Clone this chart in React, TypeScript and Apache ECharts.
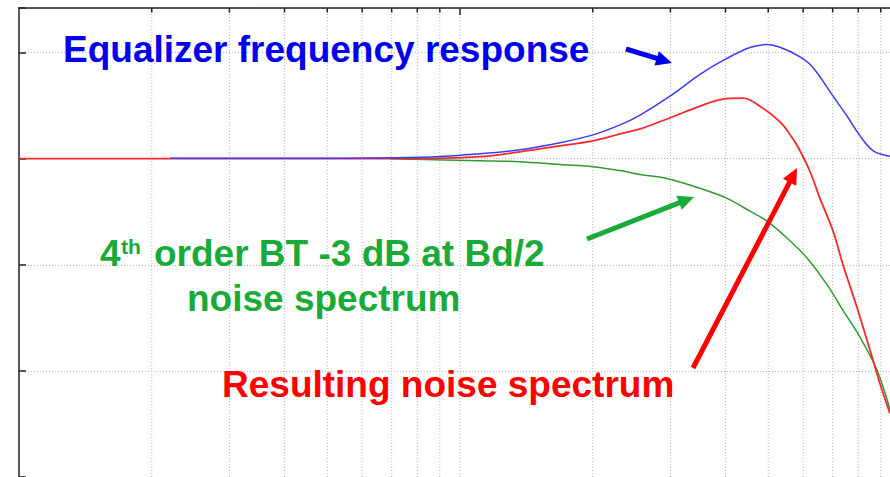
import React, { useEffect, useRef } from "react";
import * as echarts from "echarts";

// Frequencies (normalized, log axis from 1 upward) and levels in dB
const eqFreq = [2.2, 4.34, 8.12, 11.1, 13.68, 16.86, 20.03, 23.06, 25.6, 29.94, 35.01, 39.89, 45.47, 49.67, 53.17, 59.02, 63.16, 70.13, 75.44, 80.73, 86.4, 92.96, 100];
const eqDb = [0.05, 0.05, 0.14, 0.47, 0.84, 1.5, 2.24, 3.18, 4.11, 5.89, 7.94, 9.35, 10.47, 10.75, 10.5, 9.6, 8.6, 5.89, 4.02, 2.15, 0.75, 0.28, 0.19];

const btFreq = [6.94, 11.1, 13.68, 16.86, 20.03, 23.06, 25.6, 29.47, 35.01, 40.31, 45.47, 49.67, 55.13, 61.21, 67.97, 73.88, 80.73, 88.22, 94.43];
const btDb = [0, -0.19, -0.28, -0.56, -0.75, -1.12, -1.5, -1.87, -2.8, -3.74, -4.95, -5.89, -7.48, -9.35, -11.87, -14.3, -16.82, -19.91, -23.64];

const resFreq = [1, 7.31, 11.1, 13.68, 16.86, 20.03, 23.06, 25.6, 29.47, 35.01, 39.48, 43.83, 47.89, 53.17, 56.88, 59.02, 62.18, 65.51, 70.13, 73.88, 79.48, 85.07, 89.62, 94.43];
const resDb = [0, 0, 0.19, 0.65, 1.21, 1.68, 2.34, 2.8, 3.74, 4.95, 5.61, 5.7, 4.95, 3.46, 1.87, 0.75, -1.21, -3.74, -6.82, -10.0, -14.02, -18.04, -21.21, -24.02];

const gridFreqs = [2, 3, 4, 5, 6, 7, 8, 9, 10, 20, 30, 40, 50, 60, 70, 80, 90];
const majorFreqs = [10];

const F_MIN = 1;
const F_MAX = 94.43;
const Y_MIN = -30;
const Y_MAX = 14.2;
const Y_STEP = 10;

const FONT = "'Liberation Sans', Arial, sans-serif";

function arrow(x1: number, y1: number, x2: number, y2: number, color: string) {
  const dx = x2 - x1;
  const dy = y2 - y1;
  const len = Math.sqrt(dx * dx + dy * dy);
  const ux = dx / len;
  const uy = dy / len;
  const L = 16;
  const W = 7.5;
  const bx = x2 - ux * L;
  const by = y2 - uy * L;
  const nx = -uy;
  const ny = ux;
  return [
    {
      type: "line",
      shape: { x1, y1, x2: bx + ux * 2, y2: by + uy * 2 },
      style: { stroke: color, lineWidth: 5 },
      z: 100,
    },
    {
      type: "polygon",
      shape: {
        points: [
          [x2, y2],
          [bx + nx * W, by + ny * W],
          [bx - nx * W, by - ny * W],
        ],
      },
      style: { fill: color },
      z: 100,
    },
  ];
}

export default function App() {
  const ref = useRef<HTMLDivElement>(null);

  useEffect(() => {
    if (!ref.current) return;
    const chart = echarts.init(ref.current, null, { renderer: "svg" });
    const lg = (f: number) => Math.log10(f);
    const toData = (fs: number[], ds: number[]) => fs.map((f, i) => [lg(f), ds[i]]);

    const option: any = {
      animation: false,
      backgroundColor: "#ffffff",
      grid: { left: 19, right: 0, top: 8, bottom: -4, containLabel: false },
      xAxis: {
        type: "value",
        min: lg(F_MIN),
        max: lg(F_MAX),
        position: "top",
        axisLine: { show: true, onZero: false, lineStyle: { color: "#222", width: 1.5 } },
        axisTick: { show: false },
        axisLabel: { show: false },
        splitLine: { show: false },
      },
      yAxis: {
        type: "value",
        min: Y_MIN,
        max: Y_MAX,
        interval: Y_STEP,
        axisLine: { show: true, lineStyle: { color: "#222", width: 1.5 } },
        axisTick: { show: true, inside: true, length: 7, lineStyle: { color: "#222", width: 1.5 } },
        axisLabel: { show: false },
        splitLine: { show: true, lineStyle: { color: "#b8b8b8", width: 1, type: [1, 2] } },
      },
      series: [
        {
          type: "custom",
          silent: true,
          z: 1,
          data: gridFreqs.map((f) => [lg(f)]),
          renderItem: (params: any, api: any) => {
            const x = api.value(0);
            const p1 = api.coord([x, Y_MAX]);
            const p2 = api.coord([x, Y_MIN]);
            return {
              type: "line",
              shape: { x1: p1[0], y1: p1[1], x2: p2[0], y2: p2[1] },
              style: { stroke: "#b8b8b8", lineWidth: 1, lineDash: [1, 2] },
            };
          },
        },
        {
          type: "custom",
          silent: true,
          z: 5,
          data: gridFreqs.map((f) => [lg(f), majorFreqs.includes(f) ? 1 : 0]),
          renderItem: (params: any, api: any) => {
            const x = api.value(0);
            const major = api.value(1);
            const p = api.coord([x, Y_MAX]);
            return {
              type: "line",
              shape: { x1: p[0], y1: p[1], x2: p[0], y2: p[1] + (major ? 7 : 4.5) },
              style: { stroke: "#222", lineWidth: 1.5 },
            };
          },
        },
        {
          type: "line",
          name: "BT noise",
          data: toData(btFreq, btDb),
          smooth: 0.35,
          showSymbol: false,
          z: 3,
          lineStyle: { color: "#2f9a2f", width: 1.5 },
        },
        {
          type: "line",
          name: "Resulting",
          data: toData(resFreq, resDb),
          smooth: 0.35,
          showSymbol: false,
          z: 3,
          lineStyle: { color: "#f52a2a", width: 1.8 },
        },
        {
          type: "line",
          name: "Equalizer",
          data: toData(eqFreq, eqDb),
          smooth: 0.35,
          showSymbol: false,
          z: 4,
          lineStyle: { color: "#3c3cf5", width: 1.5 },
        },
      ],
      graphic: [
        {
          type: "text",
          x: 63,
          y: 31,
          z: 100,
          style: { text: "Equalizer frequency response", fill: "#0000ee", font: `bold 37px ${FONT}`, verticalAlign: "top" },
        },
        {
          type: "text",
          x: 100,
          y: 235,
          z: 100,
          style: { text: "4", fill: "#1aaa38", font: `bold 37px ${FONT}`, verticalAlign: "top" },
        },
        {
          type: "text",
          x: 121,
          y: 236,
          z: 100,
          style: { text: "th", fill: "#1aaa38", font: `bold 21px ${FONT}`, verticalAlign: "top" },
        },
        {
          type: "text",
          x: 154,
          y: 235,
          z: 100,
          style: { text: "order BT -3 dB at Bd/2", fill: "#1aaa38", font: `bold 37px ${FONT}`, verticalAlign: "top" },
        },
        {
          type: "text",
          x: 187,
          y: 280,
          z: 100,
          style: { text: "noise spectrum", fill: "#1aaa38", font: `bold 37px ${FONT}`, verticalAlign: "top" },
        },
        {
          type: "text",
          x: 222,
          y: 366,
          z: 100,
          style: { text: "Resulting noise spectrum", fill: "#ff0000", font: `bold 37px ${FONT}`, verticalAlign: "top" },
        },
        ...arrow(626, 49, 672, 63, "#0000ee"),
        ...arrow(587, 239, 694, 197, "#1aaa38"),
        ...arrow(693, 368, 797, 168, "#ff0000"),
      ],
    };
    chart.setOption(option);
    return () => chart.dispose();
  }, []);

  return (
    <div
      ref={ref}
      style={{ position: "absolute", left: 0, top: 0, width: 890, height: 477, background: "#fff" }}
    />
  );
}
